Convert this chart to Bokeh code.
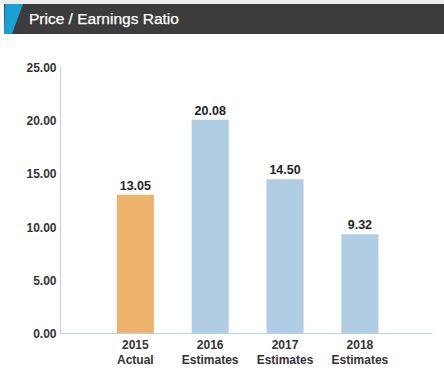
from bokeh.plotting import figure
from bokeh.layouts import column
from bokeh.models import ColumnDataSource, NumeralTickFormatter, FixedTicker, Range1d, Div
from bokeh.core.properties import value
from bokeh.embed import file_html
from bokeh.resources import INLINE

title = "Price / Earnings Ratio"
categories = ["2015\nActual", "2016\nEstimates", "2017\nEstimates", "2018\nEstimates"]
values = [13.05, 20.08, 14.50, 9.32]
colors = ["#EDB26C", "#B0CDE4", "#B0CDE4", "#B0CDE4"]
y_ticks = [0, 5, 10, 15, 20, 25]

FONT = "Liberation Sans"

# Header
header_html = (
    '<div style="position:relative;width:444px;height:34px;background:#ffffff;">'
    '<div style="position:absolute;left:0;top:0;width:444px;height:4px;background:#EDEDED;"></div>'
    '<div style="position:absolute;left:4px;top:4px;width:440px;height:30px;background:#3C3C3C;"></div>'
    '<div style="position:absolute;left:4px;top:4px;width:19px;height:30px;background:#1AA0D2;'
    'clip-path:polygon(5% 0, 100% 0, 42% 100%, 0 100%);"></div>'
    '<div style="position:absolute;left:29px;top:4px;height:30px;line-height:30px;color:#ffffff;'
    'font-family:\'Liberation Sans\',Arial,sans-serif;font-size:15.5px;font-weight:normal;'
    '-webkit-text-stroke:0.25px #ffffff;white-space:nowrap;">' + title + '</div>'
    '</div>'
)
h = Div(text=header_html, width=444, height=34, margin=(0, 0, 0, 0))

# Main chart
xs = list(range(1, len(values) + 1))
src = ColumnDataSource(dict(x=xs, top=values, color=colors,
                            label=["%.2f" % v for v in values]))

p = figure(width=444, height=342, x_range=Range1d(0, 4.97), y_range=Range1d(0, 25),
           output_backend="svg", toolbar_location=None,
           min_border_left=60, min_border_right=12, min_border_top=33, min_border_bottom=43)
p.grid.visible = False
p.outline_line_color = None
p.vbar(x="x", top="top", width=0.495, color="color", line_color=None, source=src)
p.text(x="x", y="top", text="label", source=src, text_align="center", text_baseline="bottom",
       y_offset=-5, text_font=value(FONT), text_font_style="bold", text_font_size="12.5px",
       text_color="#222222")

for ax in (p.xaxis, p.yaxis):
    ax.major_tick_line_color = None
    ax.minor_tick_line_color = None
    ax.major_tick_out = 0
    ax.major_tick_in = 0
    ax.minor_tick_out = 0
    ax.minor_tick_in = 0
    ax.major_label_text_font = FONT
    ax.major_label_text_font_style = "bold"
    ax.major_label_text_color = "#333333"

p.yaxis.ticker = FixedTicker(ticks=y_ticks)
p.yaxis.formatter = NumeralTickFormatter(format="0.00")
p.yaxis.axis_line_color = "#D9C7CF"
p.yaxis.major_label_standoff = 4
p.yaxis.major_label_text_font_size = "12px"

p.xaxis.ticker = FixedTicker(ticks=xs)
p.xaxis.major_label_overrides = {x: c for x, c in zip(xs, categories)}
p.xaxis.axis_line_color = "#B8D2E8"
p.xaxis.major_label_standoff = 4
p.xaxis.major_label_text_font_size = "12px"
p.xaxis.major_label_text_line_height = 1.1

layout = column(h, p, spacing=0)
open("out.html", "w").write(file_html(layout, INLINE))
